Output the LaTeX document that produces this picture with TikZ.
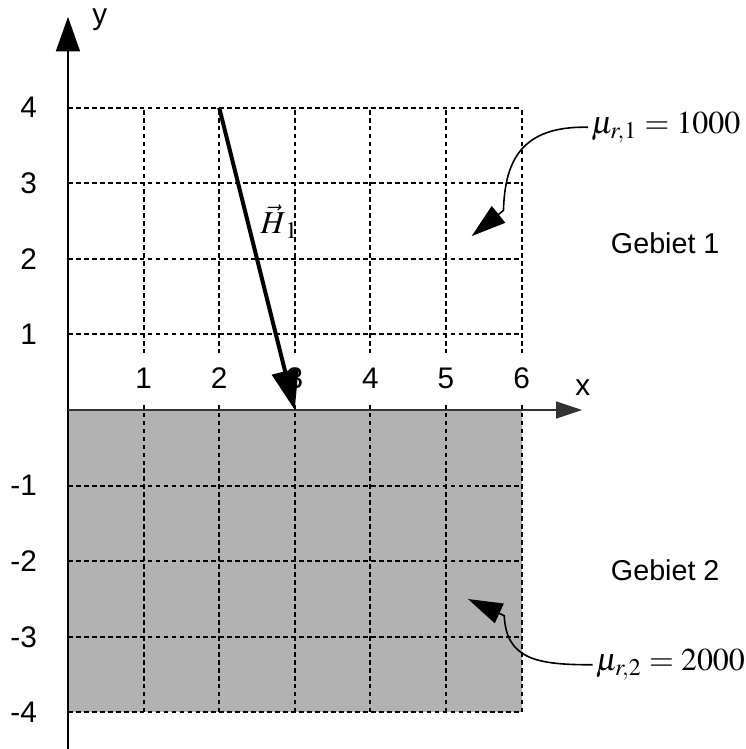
\documentclass[tikz,border=0pt]{standalone}
\usepackage{mathptmx}
\usepackage{fontspec}
\setsansfont{Liberation Sans}
\usetikzlibrary{arrows.meta}

\tikzset{
  gridline/.style={line width=0.7pt, dash pattern=on 1.8pt off 1.2pt},
  ticklabel/.style={font=\sffamily\fontsize{11.2}{13}\selectfont, inner sep=1pt},
  regionlabel/.style={font=\sffamily\fontsize{10.8}{12}\selectfont},
  mulabel/.style={font=\fontsize{12}{14}\selectfont, inner sep=1pt, anchor=west},
  pointer/.style={line width=0.6pt, -{Triangle[length=13pt,width=8pt]}},
}

\begin{document}
\begin{tikzpicture}
    \useasboundingbox (-0.899,-4.484) rectangle (8.968,5.423);

    % Gebiet 2
    \fill[black!30] (0,0) rectangle (6,-4);

    % Grid
    \foreach \i in {1,...,6} {
        \draw[gridline] (\i,-4) -- (\i,4);
    }
    \foreach \j in {-4,-3,-2,-1,1,2,3,4} {
        \draw[gridline] (0,\j) -- (6,\j);
    }

    % Tick labels
    \foreach \i in {1,...,6} {
        \node[ticklabel, fill=white, minimum height=0.66cm, minimum width=0.7cm] (xt\i) at (\i,0.42) {\i};
    }
    \foreach \j in {1,...,4} {
        \node[ticklabel, anchor=east] (ytp\j) at (-0.37,\j) {\j};
        \node[ticklabel, anchor=east] (ytn\j) at (-0.37,-\j) {-\j};
    }

    % Axes
    \coordinate (ybot) at (0,-4.6);
    \coordinate (ytop) at (0,5.2);
    \coordinate (xorg) at (0,0);
    \coordinate (xend) at (6.8,0);
    \draw[line width=0.75pt, -{Triangle[length=13pt,width=9pt]}] (ybot) -- (ytop);
    \draw[black!80, line width=0.6pt, -{Triangle[length=9.8pt,width=6.4pt]}] (xorg) -- (xend);
    \node[ticklabel] (ylab) at (0.42,5.16) {y};
    \node[ticklabel] (xlab) at (6.81,0.30) {x};

    % Field vector
    \coordinate (hstart) at (2,4);
    \coordinate (hend) at (3,0);
    \draw[line width=1.5pt, -{Triangle[length=15pt,width=10pt]}] (hstart) -- (hend);
    \node[font=\fontsize{12}{14}\selectfont] (hlab) at (2.80,2.49) {$\vec{H}_{\,1}$};

    % Regions
    \node[regionlabel] (geb1) at (7.90,2.21) {Gebiet 1};
    \node[regionlabel] (geb2) at (7.90,-2.12) {Gebiet 2};

    % Permeabilities
    \node[mulabel] (mu1) at (6.88,3.74) {$\mu_{r,1}=1000$};
    \node[mulabel] (mu2) at (6.94,-3.37) {$\mu_{r,2}=2000$};
    \coordinate (tip1) at (5.34,2.30);
    \coordinate (tip2) at (5.29,-2.50);
    \draw[pointer] (mu1.west) .. controls (6.0,3.76) and (5.78,3.3) .. (5.76,2.64) -- (tip1);
    \draw[pointer] (mu2.west) .. controls (6.2,-3.37) and (5.80,-3.3) .. (5.77,-2.72) -- (tip2);

\end{tikzpicture}
\end{document}
